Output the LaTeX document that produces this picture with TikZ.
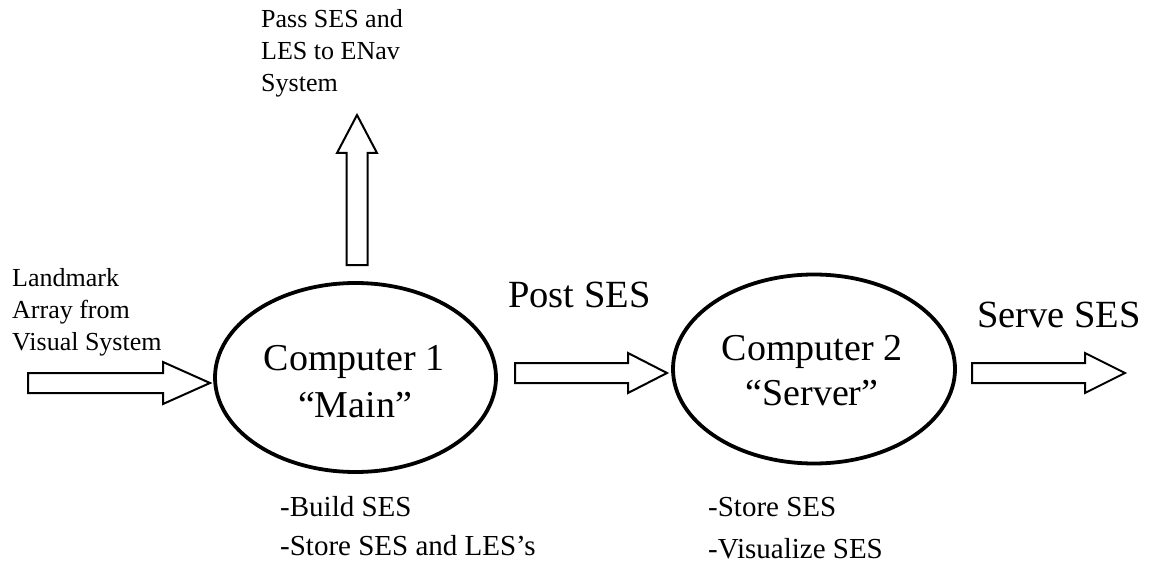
\documentclass[tikz,border=0pt]{standalone}
\usepackage{fontspec}
\setmainfont{Liberation Serif}
\usetikzlibrary{shapes.geometric}
\tikzset{
  comp/.style={draw, line width=3.8pt, ellipse, minimum height=189pt, inner sep=0pt},
  barrow/.style={draw, line width=2pt, line join=miter, fill=white},
  small/.style={font=\fontsize{26}{32}\selectfont, inner sep=0pt, anchor=base west},
  big/.style={font=\fontsize{38}{46}\selectfont, inner sep=0pt, anchor=base},
  flow/.style={font=\fontsize{38.5}{46}\selectfont, inner sep=0pt, anchor=base west},
  task/.style={font=\fontsize{29}{36}\selectfont, inner sep=0pt, anchor=base west},
}
\newcommand\hblock[4]{% tail, body length, head length, head half width
  \draw[barrow] (#1) ++(0,-10) -- ++(#2,0) -- ++(0,{-(#4-10)}) -- ++(#3,#4)
    -- ++(-#3,#4) -- ++(0,{-(#4-10)}) -- ++(-#2,0) -- cycle;}
\begin{document}
\begin{tikzpicture}[x=1pt,y=-1pt]
\useasboundingbox[fill=white] (0,0) rectangle (1152,575);

% computers
\node[comp, minimum width=281pt] (c1) at (355.5,377.5) {};
\node[comp, minimum width=282pt] (c2) at (814,369) {};
\node[big] (c1a) at (354,370) {Computer 1};
\node[big] (c1b) at (355,417) {“Main”};
\node[big] (c2a) at (812,360) {Computer 2};
\node[big] (c2b) at (812,405) {“Server”};

% block arrows
\coordinate (lt) at (28,383);
\coordinate (mt) at (515,373);
\coordinate (rt) at (972,373);
\coordinate (ut) at (357,265);
\hblock{lt}{135}{47}{21}
\hblock{mt}{113}{39}{20}
\hblock{rt}{113}{40}{20}
\draw[barrow] (ut) ++(-10.5,0) -- ++(0,-112) -- ++(-9.5,0) -- ++(20,-38)
  -- ++(20,38) -- ++(-9.5,0) -- ++(0,112) -- cycle;

% labels
\node[small] (p1) at (261,28) {Pass SES and};
\node[small] (p2) at (261,60) {LES to ENav};
\node[small] (p3) at (261,92) {System};
\node[small] (l1) at (12,286) {Landmark};
\node[small] (l2) at (12,318) {Array from};
\node[small] (l3) at (12,350) {Visual System};
\node[flow] (post) at (508,307) {Post SES};
\node[flow] (serve) at (977,327) {Serve SES};
\node[task] (t1) at (280,516) {-Build SES};
\node[task] (t2) at (280,555) {-Store SES and LES’s};
\node[task] (t3) at (708,516) {-Store SES};
\node[task] (t4) at (708,558) {-Visualize SES};
\end{tikzpicture}
\end{document}
